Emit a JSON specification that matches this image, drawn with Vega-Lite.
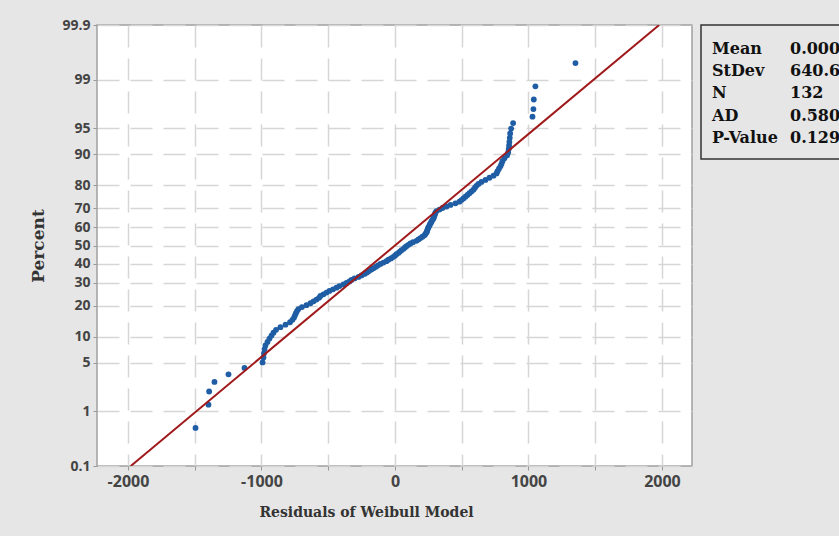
{
  "$schema": "https://vega.github.io/schema/vega-lite/v6.json",
  "background": "#e6e6e6",
  "padding": {"left": 29, "top": 17, "right": 0, "bottom": 24},
  "spacing": 9,
  "bounds": "flush",
  "datasets": {
    "pts": [
      {"residual": -1494, "z": -2.556}, {"residual": -1397, "z": -2.231}, {"residual": -1392, "z": -2.046}, {"residual": -1352, "z": -1.912},
      {"residual": -1247, "z": -1.806}, {"residual": -1127, "z": -1.716}, {"residual": -992, "z": -1.639}, {"residual": -985, "z": -1.570},
      {"residual": -981, "z": -1.509}, {"residual": -977, "z": -1.452}, {"residual": -970, "z": -1.400}, {"residual": -955, "z": -1.351},
      {"residual": -940, "z": -1.305}, {"residual": -925, "z": -1.262}, {"residual": -910, "z": -1.221}, {"residual": -891, "z": -1.182},
      {"residual": -858, "z": -1.145}, {"residual": -820, "z": -1.109}, {"residual": -786, "z": -1.075}, {"residual": -768, "z": -1.042},
      {"residual": -756, "z": -1.010}, {"residual": -749, "z": -0.979}, {"residual": -742, "z": -0.949}, {"residual": -734, "z": -0.919},
      {"residual": -723, "z": -0.891}, {"residual": -697, "z": -0.863}, {"residual": -663, "z": -0.836}, {"residual": -633, "z": -0.809},
      {"residual": -610, "z": -0.783}, {"residual": -588, "z": -0.758}, {"residual": -569, "z": -0.733}, {"residual": -558, "z": -0.708},
      {"residual": -536, "z": -0.684}, {"residual": -513, "z": -0.660}, {"residual": -491, "z": -0.637}, {"residual": -464, "z": -0.614},
      {"residual": -438, "z": -0.591}, {"residual": -416, "z": -0.569}, {"residual": -386, "z": -0.547}, {"residual": -363, "z": -0.525},
      {"residual": -341, "z": -0.503}, {"residual": -326, "z": -0.482}, {"residual": -303, "z": -0.461}, {"residual": -273, "z": -0.440},
      {"residual": -251, "z": -0.419}, {"residual": -228, "z": -0.398}, {"residual": -210, "z": -0.378}, {"residual": -195, "z": -0.358},
      {"residual": -176, "z": -0.338}, {"residual": -161, "z": -0.318}, {"residual": -142, "z": -0.298}, {"residual": -127, "z": -0.278},
      {"residual": -109, "z": -0.258}, {"residual": -86, "z": -0.239}, {"residual": -64, "z": -0.219}, {"residual": -49, "z": -0.200},
      {"residual": -30, "z": -0.181}, {"residual": -15, "z": -0.162}, {"residual": 0, "z": -0.142}, {"residual": 11, "z": -0.123},
      {"residual": 26, "z": -0.104}, {"residual": 37, "z": -0.085}, {"residual": 49, "z": -0.066}, {"residual": 64, "z": -0.047},
      {"residual": 75, "z": -0.028}, {"residual": 86, "z": -0.009}, {"residual": 101, "z": 0.009}, {"residual": 116, "z": 0.028},
      {"residual": 135, "z": 0.047}, {"residual": 161, "z": 0.066}, {"residual": 176, "z": 0.085}, {"residual": 191, "z": 0.104},
      {"residual": 206, "z": 0.123}, {"residual": 221, "z": 0.142}, {"residual": 228, "z": 0.162}, {"residual": 236, "z": 0.181},
      {"residual": 240, "z": 0.200}, {"residual": 243, "z": 0.219}, {"residual": 247, "z": 0.239}, {"residual": 251, "z": 0.258},
      {"residual": 258, "z": 0.278}, {"residual": 262, "z": 0.298}, {"residual": 270, "z": 0.318}, {"residual": 273, "z": 0.338},
      {"residual": 281, "z": 0.358}, {"residual": 288, "z": 0.378}, {"residual": 292, "z": 0.398}, {"residual": 296, "z": 0.419},
      {"residual": 300, "z": 0.440}, {"residual": 303, "z": 0.461}, {"residual": 311, "z": 0.482}, {"residual": 333, "z": 0.503},
      {"residual": 356, "z": 0.525}, {"residual": 386, "z": 0.547}, {"residual": 416, "z": 0.569}, {"residual": 453, "z": 0.591},
      {"residual": 483, "z": 0.614}, {"residual": 498, "z": 0.637}, {"residual": 513, "z": 0.660}, {"residual": 528, "z": 0.684},
      {"residual": 543, "z": 0.708}, {"residual": 558, "z": 0.733}, {"residual": 573, "z": 0.758}, {"residual": 588, "z": 0.783},
      {"residual": 599, "z": 0.809}, {"residual": 610, "z": 0.836}, {"residual": 625, "z": 0.863}, {"residual": 648, "z": 0.891},
      {"residual": 678, "z": 0.919}, {"residual": 708, "z": 0.949}, {"residual": 738, "z": 0.979}, {"residual": 761, "z": 1.010},
      {"residual": 768, "z": 1.042}, {"residual": 779, "z": 1.075}, {"residual": 790, "z": 1.109}, {"residual": 798, "z": 1.145},
      {"residual": 805, "z": 1.182}, {"residual": 820, "z": 1.221}, {"residual": 840, "z": 1.262}, {"residual": 848, "z": 1.305},
      {"residual": 852, "z": 1.351}, {"residual": 855, "z": 1.400}, {"residual": 857, "z": 1.452}, {"residual": 860, "z": 1.509},
      {"residual": 863, "z": 1.570}, {"residual": 870, "z": 1.639}, {"residual": 885, "z": 1.716}, {"residual": 1030, "z": 1.806},
      {"residual": 1037, "z": 1.912}, {"residual": 1040, "z": 2.046}, {"residual": 1052, "z": 2.231}, {"residual": 1352, "z": 2.556}
    ],
    "fit": [
      {"residual": -1979, "z": -3.09},
      {"residual": 1979, "z": 3.09}
    ],
    "stats": [
      {"row": 1, "col": 0, "t": "Mean"}, {"row": 1, "col": 1, "t": "0.000"},
      {"row": 2, "col": 0, "t": "StDev"}, {"row": 2, "col": 1, "t": "640.6"},
      {"row": 3, "col": 0, "t": "N"}, {"row": 3, "col": 1, "t": "132"},
      {"row": 4, "col": 0, "t": "AD"}, {"row": 4, "col": 1, "t": "0.580"},
      {"row": 5, "col": 0, "t": "P-Value"}, {"row": 5, "col": 1, "t": "0.129"}
    ]
  },
  "hconcat": [
    {
      "width": 595,
      "height": 441,
      "view": {"fill": "white", "stroke": "#a0a0a0", "strokeWidth": 1.5},
      "encoding": {
        "x": {
          "field": "residual", "type": "quantitative",
          "scale": {"domain": [-2232, 2225], "nice": false, "zero": false},
          "axis": {
            "values": [-2000, -1500, -1000, -500, 0, 500, 1000, 1500, 2000],
            "labelExpr": "datum.value % 1000 == 0 ? toString(datum.value) : ''",
            "title": "Residuals of Weibull Model",
            "titleFont": "DejaVu Serif", "titleFontWeight": "bold", "titleFontSize": 14, "titleColor": "#333",
            "titlePadding": 16, "titleX": 269,
            "labelFont": "Open Sans", "labelFontWeight": "bold", "labelFontSize": 16, "labelColor": "#444",
            "labelFlush": false, "labelPadding": 3,
            "tickColor": "#999", "tickSize": 4, "domain": false,
            "grid": true, "gridColor": "#d6d6d6", "gridDash": [22, 11], "gridWidth": 1.5
          }
        },
        "y": {
          "field": "z", "type": "quantitative",
          "scale": {"domain": [-3.09, 3.09], "nice": false, "zero": false},
          "axis": {
            "values": [-3.09, -2.326, -1.645, -1.2816, -0.8416, -0.5244, -0.2533, 0, 0.2533, 0.5244, 0.8416, 1.2816, 1.645, 2.326, 3.09],
            "labelExpr": "datum.value < -3 ? '0.1' : datum.value < -2 ? '1' : datum.value < -1.5 ? '5' : datum.value < -1 ? '10' : datum.value < -0.7 ? '20' : datum.value < -0.4 ? '30' : datum.value < -0.1 ? '40' : datum.value < 0.1 ? '50' : datum.value < 0.4 ? '60' : datum.value < 0.7 ? '70' : datum.value < 1 ? '80' : datum.value < 1.5 ? '90' : datum.value < 2 ? '95' : datum.value < 3 ? '99' : '99.9'",
            "title": "Percent",
            "titleFont": "DejaVu Serif", "titleFontWeight": "bold", "titleFontSize": 17, "titleColor": "#333",
            "titlePadding": 14,
            "labelFont": "Open Sans", "labelFontWeight": "bold", "labelFontSize": 14, "labelColor": "#444",
            "labelFlush": false, "labelOverlap": false, "labelPadding": 3,
            "tickColor": "#999", "tickSize": 4, "domain": false,
            "grid": true, "gridColor": "#d6d6d6", "gridDash": [22, 11], "gridWidth": 1.5
          }
        }
      },
      "layer": [
        {
          "data": {"name": "pts"},
          "mark": {"type": "circle", "color": "#1f5da4", "size": 34, "opacity": 1}
        },
        {
          "data": {"name": "fit"},
          "mark": {"type": "line", "color": "#a01a1c", "strokeWidth": 2, "clip": true}
        }
      ]
    },
    {
      "width": 145,
      "height": 134,
      "view": {"fill": "#e6e6e6", "stroke": "#333", "strokeWidth": 1.5},
      "data": {"name": "stats"},
      "mark": {"type": "text", "align": "left", "baseline": "middle", "font": "DejaVu Serif", "fontWeight": "bold", "fontSize": 16, "color": "#111"},
      "encoding": {
        "x": {"field": "col", "type": "quantitative", "scale": {"domain": [-0.141, 1.718], "nice": false, "zero": false}, "axis": null},
        "y": {"field": "row", "type": "quantitative", "scale": {"domain": [-0.0787, 5.944], "reverse": true, "nice": false, "zero": false}, "axis": null},
        "text": {"field": "t"}
      }
    }
  ]
}
